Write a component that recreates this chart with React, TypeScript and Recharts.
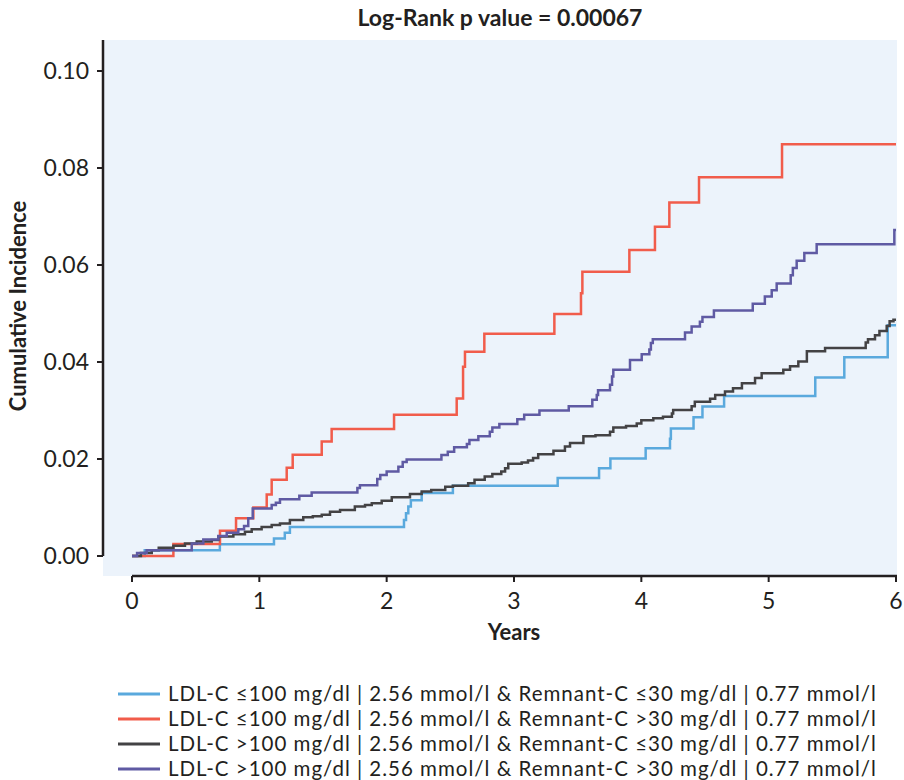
import React from 'react'
import {
  LineChart, Line, XAxis, YAxis, ReferenceArea, ReferenceLine, Legend, Customized,
} from 'recharts'

// ─── Data ────────────────────────────────────────────────────────────────────

const X_TICKS = [0, 1, 2, 3, 4, 5, 6]
const Y_TICKS = [0, 0.02, 0.04, 0.06, 0.08, 0.1]

const LOWLDL_LOWREM_T = [0, 0.10, 0.69, 1.115, 1.20, 1.24, 2.136, 2.152, 2.17, 2.19, 2.275, 2.52, 3.343, 3.668, 3.757, 4.034, 4.225, 4.232, 4.41, 4.48, 4.65, 5.366, 5.594, 5.935, 6.0]
const LOWLDL_LOWREM_V = [0, 0.0012, 0.0024, 0.0036, 0.0048, 0.0060, 0.0074, 0.0088, 0.0102, 0.0115, 0.0130, 0.0145, 0.0161, 0.0181, 0.0201, 0.0222, 0.0242, 0.0263, 0.0286, 0.0308, 0.0330, 0.0368, 0.0410, 0.0476, 0.0476]

const LOWLDL_HIGHREM_T = [0, 0.325, 0.691, 0.817, 0.953, 1.058, 1.097, 1.215, 1.262, 1.49, 1.568, 2.058, 2.55, 2.60, 2.615, 2.767, 3.317, 3.526, 3.537, 3.906, 4.107, 4.22, 4.453, 5.105, 6.0]
const LOWLDL_HIGHREM_V = [0, 0.0025, 0.0052, 0.0078, 0.0100, 0.0127, 0.0157, 0.0182, 0.0209, 0.0236, 0.0262, 0.0291, 0.0325, 0.0390, 0.0421, 0.0458, 0.0499, 0.0542, 0.0586, 0.0631, 0.0679, 0.0729, 0.0781, 0.0849, 0.0849]

const HIGHLDL_LOWREM_T = [0, 0.07, 0.155, 0.21, 0.325, 0.416, 0.508, 0.626, 0.678, 0.796, 0.887, 0.94, 1.018, 1.097, 1.162, 1.24, 1.345, 1.42, 1.49, 1.555, 1.634, 1.75, 1.83, 1.883, 1.961, 2.04, 2.183, 2.275, 2.35, 2.46, 2.52, 2.64, 2.69, 2.77, 2.83, 2.90, 2.93, 2.955, 3.06, 3.11, 3.15, 3.19, 3.31, 3.40, 3.44, 3.545, 3.64, 3.754, 3.78, 3.88, 3.964, 4.0, 4.094, 4.17, 4.24, 4.25, 4.395, 4.42, 4.54, 4.58, 4.657, 4.72, 4.79, 4.893, 4.945, 5.115, 5.168, 5.233, 5.30, 5.443, 5.762, 5.78, 5.835, 5.87, 5.927, 5.95, 5.98, 6.0]
const HIGHLDL_LOWREM_V = [0, 0.0006, 0.0012, 0.0017, 0.0021, 0.0026, 0.0030, 0.0033, 0.0040, 0.0045, 0.0050, 0.0055, 0.0060, 0.0064, 0.0067, 0.0074, 0.0080, 0.0082, 0.0085, 0.0091, 0.0095, 0.0102, 0.0105, 0.0109, 0.0114, 0.0121, 0.0128, 0.0133, 0.0136, 0.0143, 0.0145, 0.0150, 0.0157, 0.0164, 0.0169, 0.0174, 0.0181, 0.0190, 0.0193, 0.0197, 0.0202, 0.0210, 0.0217, 0.0226, 0.0233, 0.0247, 0.0249, 0.0256, 0.0265, 0.0268, 0.0273, 0.0280, 0.0284, 0.0287, 0.0294, 0.0301, 0.0309, 0.0318, 0.0324, 0.0332, 0.0339, 0.0346, 0.0356, 0.0367, 0.0377, 0.0384, 0.0391, 0.0401, 0.0422, 0.0429, 0.0440, 0.0447, 0.0455, 0.0464, 0.0474, 0.0484, 0.0487, 0.0487]

const HIGHLDL_HIGHREM_T = [0, 0.04, 0.115, 0.469, 0.56, 0.678, 0.744, 0.835, 0.88, 0.913, 0.948, 1.097, 1.13, 1.162, 1.314, 1.411, 1.77, 1.79, 1.926, 1.95, 2.0, 2.092, 2.126, 2.157, 2.43, 2.48, 2.53, 2.63, 2.65, 2.72, 2.81, 2.83, 2.885, 3.026, 3.08, 3.2, 3.43, 3.615, 3.65, 3.66, 3.754, 3.77, 3.78, 3.911, 4.003, 4.063, 4.075, 4.09, 4.343, 4.395, 4.46, 4.48, 4.57, 4.875, 4.97, 5.024, 5.063, 5.173, 5.19, 5.22, 5.28, 5.377, 5.987, 6.0]
const HIGHLDL_HIGHREM_V = [0, 0.0006, 0.0012, 0.0026, 0.0034, 0.0041, 0.0048, 0.0055, 0.0062, 0.0078, 0.0098, 0.0105, 0.0110, 0.0117, 0.0124, 0.0131, 0.0140, 0.0146, 0.0159, 0.0167, 0.0174, 0.0184, 0.0194, 0.0199, 0.0208, 0.0215, 0.0224, 0.0231, 0.0239, 0.0247, 0.0256, 0.0265, 0.0272, 0.0282, 0.0291, 0.0300, 0.0309, 0.0322, 0.0332, 0.0342, 0.0353, 0.0370, 0.0384, 0.0404, 0.0416, 0.0426, 0.0439, 0.0447, 0.0461, 0.0473, 0.0483, 0.0493, 0.0506, 0.0520, 0.0535, 0.0548, 0.0562, 0.0579, 0.0594, 0.0609, 0.0625, 0.0643, 0.0672, 0.0672]

const toPoints = (ts: number[], vs: number[]) => ts.map((t, i) => ({ t, v: vs[i] }))

const SERIES = [
  { name: 'LDL-C ≤100 mg/dl | 2.56 mmol/l & Remnant-C ≤30 mg/dl | 0.77 mmol/l', color: '#5aa9dd', data: toPoints(LOWLDL_LOWREM_T, LOWLDL_LOWREM_V) },
  { name: 'LDL-C ≤100 mg/dl | 2.56 mmol/l & Remnant-C >30 mg/dl | 0.77 mmol/l', color: '#f15c4b', data: toPoints(LOWLDL_HIGHREM_T, LOWLDL_HIGHREM_V) },
  { name: 'LDL-C >100 mg/dl | 2.56 mmol/l & Remnant-C ≤30 mg/dl | 0.77 mmol/l', color: '#434244', data: toPoints(HIGHLDL_LOWREM_T, HIGHLDL_LOWREM_V) },
  { name: 'LDL-C >100 mg/dl | 2.56 mmol/l & Remnant-C >30 mg/dl | 0.77 mmol/l', color: '#5f5aa3', data: toPoints(HIGHLDL_HIGHREM_T, HIGHLDL_HIGHREM_V) },
]

// ─── Layout ──────────────────────────────────────────────────────────────────

const W = 904
const H = 780
const FONT = 'Lato, "Open Sans", sans-serif'
const INK = '#231f20'
const PANEL = '#ecf3fb'

// plot box: x 103..897, y 40..576; year 0 sits at x=132, 0.00 at y=556
const X_MIN = -29 / 127.333
const X_MAX = 765 / 127.333
const Y_MIN = -20 / 4850
const Y_MAX = 516 / 4850

function Annotations() {
  return (
    <g fontFamily={FONT} fill={INK} fontWeight={700}>
      <text x={500} y={26} textAnchor="middle" fontSize={23}>Log-Rank p value = 0.00067</text>
      <text x={514} y={640} textAnchor="middle" fontSize={22}>Years</text>
      <text x={26} y={306} textAnchor="middle" fontSize={22} transform="rotate(-90 26 306)">Cumulative Incidence</text>
    </g>
  )
}

// legend drawn from SERIES so the order matches the figure
function KMLegend() {
  return (
    <div style={{ fontFamily: FONT, fontSize: 20.5, letterSpacing: 1, color: INK, lineHeight: '25px' }}>
      {SERIES.map((s) => (
        <div key={s.name} style={{ display: 'flex', alignItems: 'center', height: 25, whiteSpace: 'nowrap' }}>
          <svg width={168} height={25} style={{ flexShrink: 0 }}>
            <line x1={118} x2={160} y1={13} y2={13} stroke={s.color} strokeWidth={3} />
          </svg>
          <span>{s.name}</span>
        </div>
      ))}
    </div>
  )
}

export default function App() {
  return (
    <div style={{ width: W, height: H, background: '#fff' }}>
      <style>{'body{margin:0}'}</style>
      <LineChart width={W} height={H} margin={{ top: 40, right: 7, left: 43, bottom: 174 }}>
        <ReferenceArea x1={X_MIN} x2={X_MAX} y1={Y_MIN} y2={Y_MAX} fill={PANEL} fillOpacity={1} stroke="none" />
        <XAxis
          dataKey="t"
          type="number"
          domain={[X_MIN, X_MAX]}
          allowDataOverflow
          ticks={X_TICKS}
          height={30}
          axisLine={false}
          tickSize={6}
          tickMargin={11}
          tickLine={{ stroke: INK, strokeWidth: 2 }}
          tick={{ fontSize: 23, fill: INK, fontFamily: FONT }}
        />
        <YAxis
          type="number"
          domain={[Y_MIN, Y_MAX]}
          allowDataOverflow
          ticks={Y_TICKS}
          width={60}
          axisLine={false}
          tickSize={6}
          tickMargin={8}
          tickLine={{ stroke: INK, strokeWidth: 2 }}
          tickFormatter={(v: number) => v.toFixed(2)}
          tick={{ fontSize: 23, fill: INK, fontFamily: FONT }}
        />
        <ReferenceLine segment={[{ x: X_MIN, y: 0 }, { x: X_MIN, y: Y_MAX }]} stroke={INK} strokeWidth={2.5} ifOverflow="visible" />
        <ReferenceLine segment={[{ x: 0, y: Y_MIN }, { x: X_MAX, y: Y_MIN }]} stroke={INK} strokeWidth={2.5} ifOverflow="visible" />
        {SERIES.map((s) => (
          <Line
            key={s.name}
            data={s.data}
            dataKey="v"
            name={s.name}
            type="stepAfter"
            stroke={s.color}
            strokeWidth={2.5}
            dot={false}
            activeDot={false}
            isAnimationActive={false}
          />
        ))}
        <Legend
          layout="horizontal"
          verticalAlign="middle"
          align="center"
          content={<KMLegend />}
          wrapperStyle={{ left: 0, top: 681, width: W }}
        />
        <Customized component={Annotations} />
      </LineChart>
    </div>
  )
}
